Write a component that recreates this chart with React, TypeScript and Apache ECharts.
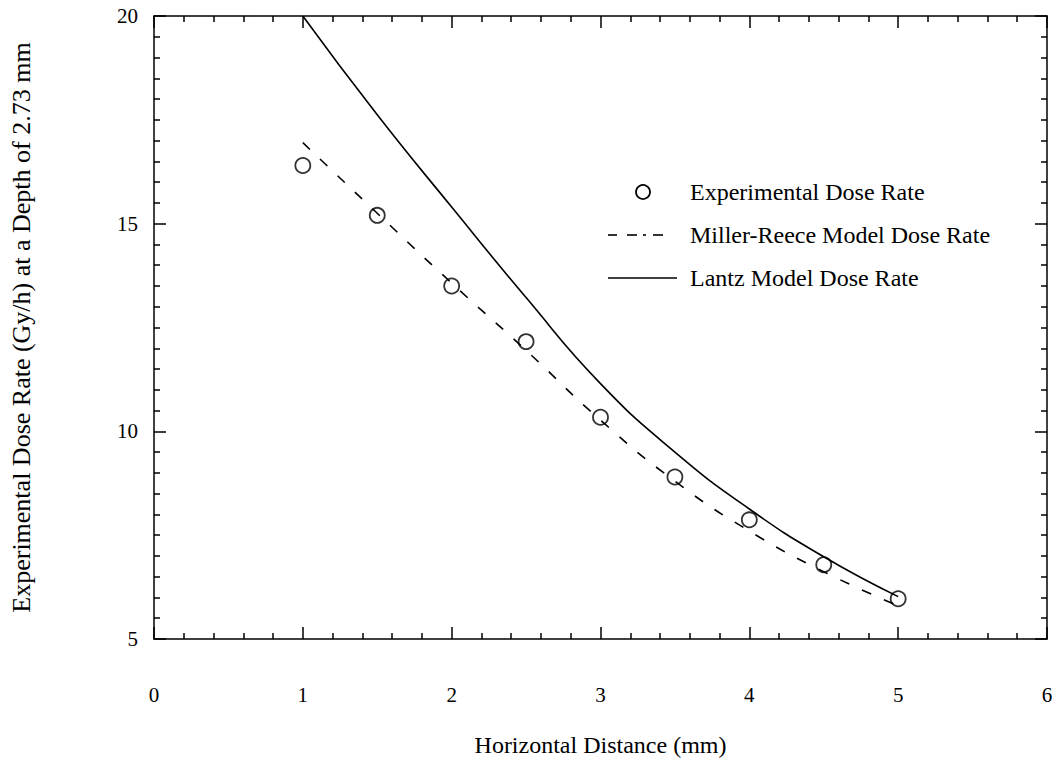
import React, { useEffect, useRef } from "react";
import * as echarts from "echarts";

const xValues = [1, 1.5, 2, 2.5, 3, 3.5, 4, 4.5, 5];
const experimental = [16.4, 15.2, 13.5, 12.16, 10.34, 8.9, 7.87, 6.79, 5.97];
const millerReece = [16.95, 15.25, 13.57, 11.95, 10.27, 8.8, 7.6, 6.62, 5.8];
const lantz = [20.0, 17.62, 15.4, 13.22, 11.15, 9.5, 8.13, 6.98, 6.02];
const xTicks = [0, 1, 2, 3, 4, 5, 6];
const yTicks = [5, 10, 15, 20];
const legendLabels = ["Experimental Dose Rate", "Miller-Reece Model Dose Rate", "Lantz Model Dose Rate"];

const FONT = "'Liberation Serif', 'DejaVu Serif', serif";

export default function App() {
  const ref = useRef<HTMLDivElement>(null);
  useEffect(() => {
    if (!ref.current) return;
    const chart = echarts.init(ref.current, undefined, { renderer: "svg" });
    const pair = (ys: number[]) => xValues.map((x, i) => [x, ys[i]]);
    const axisLine = { show: true, onZero: false, lineStyle: { color: "#000", width: 1.5 } };
    const xCommon = {
      type: "value" as const,
      min: xTicks[0],
      max: xTicks[xTicks.length - 1],
      interval: 1,
      axisLine,
      splitLine: { show: false },
      axisTick: { show: true, inside: true, length: 12, lineStyle: { color: "#000", width: 1.5 } },
      minorTick: { show: true, splitNumber: 5, length: 6, lineStyle: { color: "#000", width: 1.5 } },
    };
    const yCommon = {
      type: "value" as const,
      min: yTicks[0],
      max: yTicks[yTicks.length - 1],
      interval: 5,
      axisLine,
      splitLine: { show: false },
      axisTick: { show: true, inside: true, length: 12, lineStyle: { color: "#000", width: 1.5 } },
      minorTick: { show: true, splitNumber: 10, length: 6, lineStyle: { color: "#000", width: 1.5 } },
    };
    const lx = 608, ly = 192, gap = 43;
    chart.setOption({
      animation: false,
      backgroundColor: "#fff",
      grid: { left: 152, top: 16, right: 13, bottom: 121 },
      xAxis: [
        {
          ...xCommon,
          position: "bottom",
          name: "Horizontal Distance (mm)",
          nameLocation: "middle",
          nameGap: 94,
          nameTextStyle: { fontFamily: FONT, fontSize: 24, color: "#000", verticalAlign: "top" },
          axisLabel: { fontFamily: FONT, fontSize: 21, color: "#000", margin: 45 },
        },
        { ...xCommon, position: "top", axisLabel: { show: false } },
      ],
      yAxis: [
        {
          ...yCommon,
          position: "left",
          name: "Experimental Dose Rate (Gy/h) at a Depth of 2.73 mm",
          nameLocation: "middle",
          nameGap: 120,
          nameTextStyle: { fontFamily: FONT, fontSize: 26, color: "#000" },
          axisLabel: { fontFamily: FONT, fontSize: 21, color: "#000", margin: 16 },
        },
        { ...yCommon, position: "right", axisLabel: { show: false } },
      ],
      series: [
        {
          name: legendLabels[1],
          type: "line",
          data: pair(millerReece),
          smooth: 0.5,
          showSymbol: false,
          lineStyle: { color: "#000", width: 1.6, type: [10, 14] },
        },
        {
          name: legendLabels[2],
          type: "line",
          data: pair(lantz),
          smooth: 0.5,
          showSymbol: false,
          lineStyle: { color: "#000", width: 1.6 },
        },
        {
          name: legendLabels[0],
          type: "scatter",
          data: pair(experimental),
          symbol: "circle",
          symbolSize: 15,
          itemStyle: { color: "rgba(255,255,255,0)", borderColor: "#000", borderWidth: 1.8 },
        },
      ],
      graphic: [
        { type: "circle", shape: { cx: lx + 35, cy: ly, r: 7 }, style: { fill: "none", stroke: "#000", lineWidth: 1.8 } },
        { type: "line", shape: { x1: lx, y1: ly + gap, x2: lx + 9, y2: ly + gap }, style: { stroke: "#000", lineWidth: 1.6 } },
        { type: "line", shape: { x1: lx + 19, y1: ly + gap, x2: lx + 29, y2: ly + gap }, style: { stroke: "#000", lineWidth: 1.6 } },
        { type: "line", shape: { x1: lx + 35, y1: ly + gap, x2: lx + 38, y2: ly + gap }, style: { stroke: "#000", lineWidth: 1.6 } },
        { type: "line", shape: { x1: lx + 45, y1: ly + gap, x2: lx + 55, y2: ly + gap }, style: { stroke: "#000", lineWidth: 1.6 } },
        { type: "line", shape: { x1: lx, y1: ly + 2 * gap, x2: lx + 69, y2: ly + 2 * gap }, style: { stroke: "#000", lineWidth: 1.6 } },
        ...legendLabels.map((t, i) => ({
          type: "text",
          x: 690,
          y: ly + i * gap,
          style: { text: t, fontFamily: FONT, fontSize: 24, fill: "#000", verticalAlign: "middle", align: "left" },
        })),
      ],
    });
    return () => chart.dispose();
  }, []);
  return <div ref={ref} style={{ width: 1060, height: 762, marginLeft: -8, marginTop: -8 }} />;
}
